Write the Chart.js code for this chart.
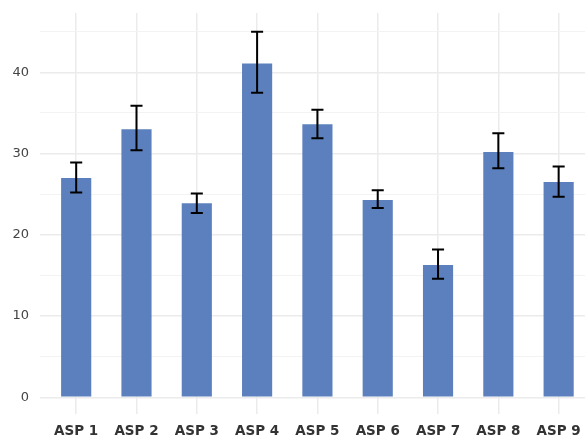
<!DOCTYPE html>
<html>
<head>
<meta charset="utf-8">
<script src="https://cdn.jsdelivr.net/npm/chart.js@4.4.1/dist/chart.umd.min.js"></script>
<style>
html,body{margin:0;padding:0;background:#fff;overflow:hidden;}
#wrap{width:585px;height:436px;}
</style>
</head>
<body>
<div id="wrap"><canvas id="c" width="585" height="436"></canvas></div>
<script>
const categories = ["ASP 1","ASP 2","ASP 3","ASP 4","ASP 5","ASP 6","ASP 7","ASP 8","ASP 9"];
const means = [27.0, 33.0, 23.9, 41.1, 33.6, 24.3, 16.3, 30.2, 26.5];
const errUpper = [28.9, 35.9, 25.1, 45.0, 35.4, 25.5, 18.2, 32.5, 28.4];
const errLower = [25.2, 30.4, 22.7, 37.5, 31.9, 23.3, 14.6, 28.2, 24.7];
const yTicks = [0, 5, 10, 15, 20, 25, 30, 35, 40, 45];
const yLabelTicks = [0, 10, 20, 30, 40];

const errorBarPlugin = {
  id: 'errorBars',
  afterDatasetsDraw(chart) {
    const ctx = chart.ctx, xs = chart.scales.x, ys = chart.scales.y;
    ctx.save();
    ctx.strokeStyle = '#000';
    ctx.lineWidth = 2;
    ctx.lineCap = 'butt';
    categories.forEach((c, i) => {
      const x = xs.getPixelForValue(i);
      const hw = xs.getPixelForValue(i + 0.1) - x;
      const yt = ys.getPixelForValue(errUpper[i]);
      const yb = ys.getPixelForValue(errLower[i]);
      ctx.beginPath();
      ctx.moveTo(x, yt); ctx.lineTo(x, yb);
      ctx.moveTo(x - hw, yt); ctx.lineTo(x + hw, yt);
      ctx.moveTo(x - hw, yb); ctx.lineTo(x + hw, yb);
      ctx.stroke();
    });
    ctx.restore();
  }
};

new Chart(document.getElementById('c'), {
  type: 'bar',
  data: {
    datasets: [{
      data: means.map((v, i) => ({x: i, y: v})),
      backgroundColor: '#5b80bd',
      borderWidth: 0,
      barPercentage: 0.5,
      categoryPercentage: 1.0
    }]
  },
  plugins: [errorBarPlugin],
  options: {
    responsive: false,
    animation: false,
    layout: {padding: {top: 13, left: 0, right: 0, bottom: 0}},
    plugins: {legend: {display: false}, tooltip: {enabled: false}},
    scales: {
      x: {
        type: 'linear',
        offset: false,
        min: -0.6,
        max: 8.437,
        border: {display: false},
        grid: {offset: false, color: '#ebebeb', lineWidth: 1.5, drawTicks: false},
        afterBuildTicks: s => { s.ticks = categories.map((c, i) => ({value: i})); },
        afterFit: s => { s.height = 22; s.paddingLeft = 0; s.paddingRight = 0; },
        ticks: {
          padding: 9,
          autoSkip: false,
          maxRotation: 0,
          color: '#333',
          font: {family: 'DejaVu Sans', size: 13.5, weight: 'bold'},
          callback: v => categories[v]
        }
      },
      y: {
        min: -2.05,
        max: 47.3,
        border: {display: false},
        grid: {
          drawTicks: false,
          color: ctx => yLabelTicks.includes(ctx.tick.value) ? '#ebebeb' : '#f3f3f3',
          lineWidth: ctx => yLabelTicks.includes(ctx.tick.value) ? 1.5 : 1
        },
        afterBuildTicks: s => { s.ticks = yTicks.map(v => ({value: v})); },
        afterFit: s => { s.width = 40; s.paddingTop = 0; s.paddingBottom = 0; },
        ticks: {
          padding: 11,
          color: '#444',
          font: {family: 'DejaVu Sans', size: 13},
          callback: v => yLabelTicks.includes(v) ? String(v) : ''
        }
      }
    }
  }
});
</script>
</body>
</html>
